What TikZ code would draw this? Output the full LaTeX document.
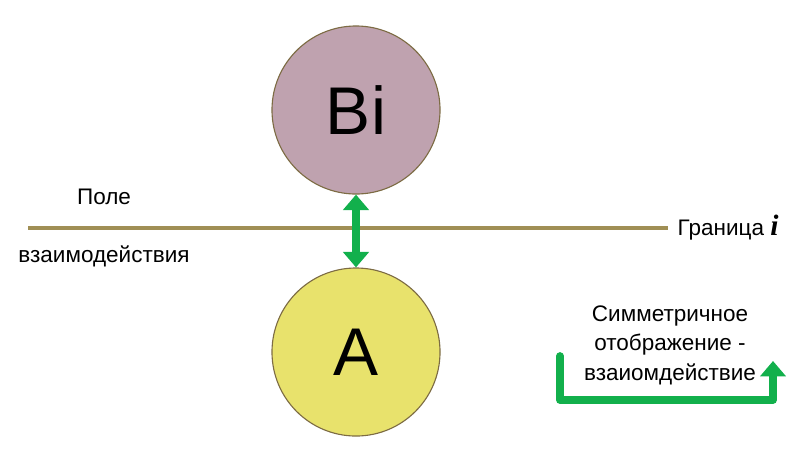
\documentclass[tikz,border=0pt]{standalone}
\usepackage{fontspec}
\setmainfont{Liberation Sans}
\newfontfamily\serifi{Liberation Serif}
\usepackage{tikz}
\usetikzlibrary{arrows.meta}
\definecolor{fieldline}{HTML}{A08F55}
\definecolor{arrowgreen}{HTML}{12B04C}
\definecolor{bifill}{HTML}{BFA2AF}
\definecolor{afill}{HTML}{E8E26C}
\definecolor{rimcolor}{HTML}{7D6C44}
\tikzstyle{body} = [circle, draw=rimcolor, line width=0.8pt,
    minimum size=4.2cm, inner sep=0pt, font=\fontsize{48}{50}\selectfont]
\tikzstyle{label} = [inner sep=1pt, font=\fontsize{16}{21}\selectfont]
\tikzstyle{line} = [draw, arrowgreen, line width=5.5pt,
    -{Triangle[width=18pt, length=11pt]}]

\begin{document}
\begin{tikzpicture}[x=0.025cm, y=-0.025cm]
    \useasboundingbox (0,0) rectangle (800,450);
    % Place nodes
    \node [body, fill=bifill] (bi) at (356,110) {Bi};
    \node [body, fill=afill] (a) at (356,352) {A};
    \coordinate (left) at (28,228);
    \coordinate (right) at (668,228);
    \node [label] (field) at (104,197) {Поле};
    \node [label] (field2) at (104,256) {взаимодействия};
    \node [label, anchor=west] (border) at (676,228)
        {Граница {\serifi\bfseries\itshape\fontsize{21}{21}\selectfont i}};
    \node [label, align=center] (sym) at (670,345)
        {Симметричное\\отображение -\\взаиомдействие};
    \coordinate (bendstart) at (560,356);
    \coordinate (bendcorner) at (560,400);
    \coordinate (bendend) at (773,361);
    % Draw edges
    \draw [fieldline, line width=2.2pt] (left) -- (right);
    \path [line, {Triangle[width=18pt, length=11pt]}-{Triangle[width=18pt, length=11pt]}]
        (bi.south) -- (a.north);
    \path [line, line join=round, line cap=round] (bendstart) -- (bendcorner) -| (bendend);
\end{tikzpicture}
\end{document}
